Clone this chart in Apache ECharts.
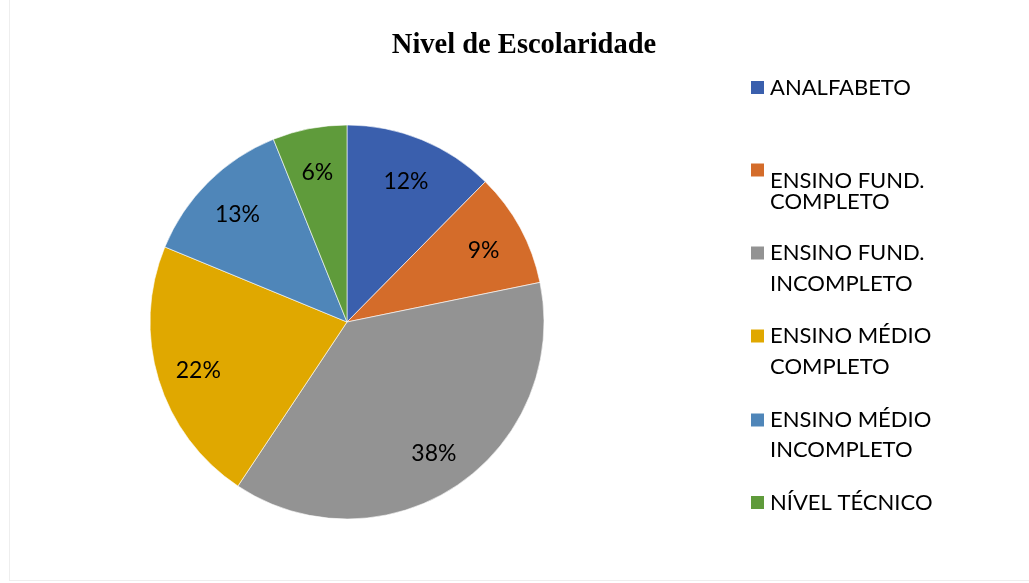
<!DOCTYPE html>
<html>
<head>
<meta charset="utf-8">
<script src="https://cdn.jsdelivr.net/npm/echarts@6/dist/echarts.min.js"></script>
<style>
  html, body { margin: 0; padding: 0; background: #fff; }
  #frame { position: absolute; left: 9px; top: -2px; width: 1030px; height: 583px; border: 1px solid #eeeeee; box-sizing: border-box; }
  #chart { position: absolute; left: 0; top: 0; width: 1029px; height: 583px; }
</style>
</head>
<body>
<div id="frame"></div>
<div id="chart"></div>
<script>
/* Nivel de Escolaridade — pie */
const categories = ['ANALFABETO', 'ENSINO FUND. COMPLETO', 'ENSINO FUND. INCOMPLETO', 'ENSINO MÉDIO COMPLETO', 'ENSINO MÉDIO INCOMPLETO', 'NÍVEL TÉCNICO'];
const legendLines = [['ANALFABETO'], ['ENSINO FUND.', 'COMPLETO'], ['ENSINO FUND.', 'INCOMPLETO'], ['ENSINO MÉDIO', 'COMPLETO'], ['ENSINO MÉDIO', 'INCOMPLETO'], ['NÍVEL TÉCNICO']];
const values = [12.4, 9.4, 37.6, 21.9, 12.7, 6.1];
const colors = ['#3a5fad', '#d46c2a', '#939393', '#e0a800', '#4f86b9', '#5f9b3b'];

// per-legend-entry layout (Excel put these at uneven spacing)
// blank lines push the text below the marker the way the original does
const legendBlank = [0, 2, 1, 1, 1, 0];
const legendLineH = [24, 21, 31, 31, 30, 24];
const legendMarkY = [87.5, 169.5, 253, 336, 420, 502.5];

const chart = echarts.init(document.getElementById('chart'));
const pieData = categories.map((name, i) => ({ name, value: values[i], itemStyle: { color: colors[i] } }));

const legends = categories.map((name, i) => {
  const nLines = legendBlank[i] + legendLines[i].length;
  return {
    data: [name],
    left: 749,
    top: legendMarkY[i] - (nLines * legendLineH[i]) / 2,
    padding: 0,
    itemWidth: 15,
    itemHeight: 15,
    itemGap: 0,
    icon: 'rect',
    formatter: () => '\n'.repeat(legendBlank[i]) + legendLines[i].join('\n'),
    textStyle: {
      fontFamily: 'Lato',
      fontSize: 22,
      color: '#000',
      lineHeight: legendLineH[i],
    },
  };
});

chart.setOption({
  backgroundColor: 'transparent',
  animation: false,
  title: {
    text: 'Nivel de Escolaridade',
    left: 519,
    textAlign: 'center',
    top: 26,
    textStyle: { fontFamily: 'Liberation Serif', fontWeight: 'bold', fontSize: 28.5, color: '#000' },
  },
  legend: legends,
  series: [
    {
      type: 'pie',
      center: [347, 322],
      radius: [0, 197],
      startAngle: 90,
      clockwise: true,
      silent: true,
      label: { show: false },
      labelLine: { show: false },
      itemStyle: { borderColor: '#ffffff', borderWidth: 0.6 },
      data: pieData,
    },
    {
      // label carrier: ring at the outer part so labels sit near 0.78 r
      type: 'pie',
      center: [347, 325],
      radius: [108, 197],
      startAngle: 90,
      clockwise: true,
      silent: true,
      legendHoverLink: false,
      itemStyle: { color: 'transparent', borderWidth: 0 },
      label: {
        show: true,
        position: 'inside',
        formatter: (p) => Math.round(p.percent) + '%',
        fontFamily: 'Lato',
        fontSize: 23,
        color: '#000',
      },
      labelLine: { show: false },
      data: categories.map((name, i) => ({ name, value: values[i] })),
    },
  ],
});
</script>
</body>
</html>
